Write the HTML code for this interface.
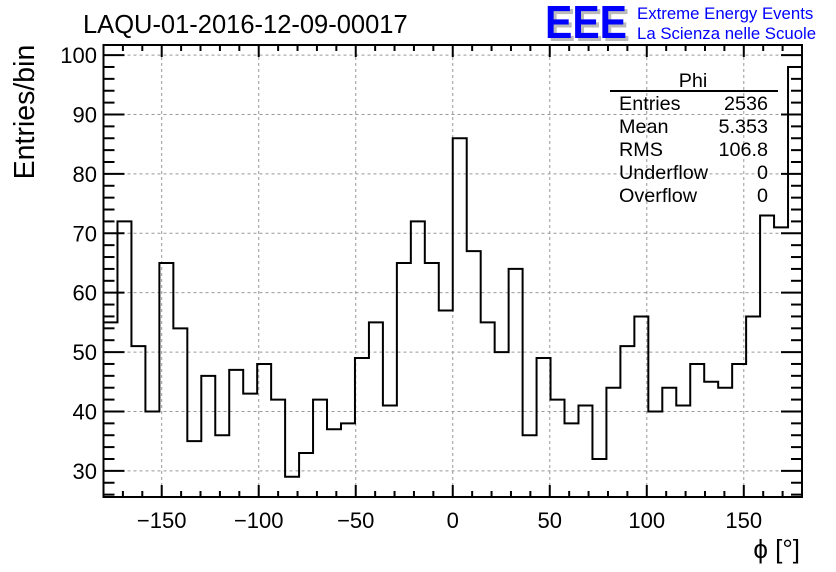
<!DOCTYPE html>
<html><head><meta charset="utf-8"><style>
body{margin:0;background:#fff;}
svg{display:block;font-family:"Liberation Sans",Arial,sans-serif;}
</style></head><body>
<svg id="chart" width="836" height="572" viewBox="0 0 836 572">
<rect width="836" height="572" fill="#fff"/>
<text x="83" y="33" font-size="25.5">LAQU-01-2016-12-09-00017</text>
<g>
<text x="548" y="41" font-size="46" font-weight="bold" fill="#bbb" textLength="82" lengthAdjust="spacingAndGlyphs">EEE</text>
<text x="545" y="38" font-size="46" font-weight="bold" fill="#0000ff" textLength="82" lengthAdjust="spacingAndGlyphs">EEE</text>
<text x="637" y="19" font-size="16.8" fill="#0000ff">Extreme Energy Events</text>
<text x="637" y="39" font-size="16.8" fill="#0000ff">La Scienza nelle Scuole</text>
</g>
<g id="grid"></g>
<g id="ticks"></g>
<path id="hist" fill="none" stroke="#000" stroke-width="2"/>
<rect x="103.5" y="45" width="698.5" height="452" fill="none" stroke="#000" stroke-width="2"/>
<g font-size="19.8">
<text x="693" y="87" text-anchor="middle">Phi</text>
<line x1="610" y1="91" x2="778" y2="91" stroke="#000" stroke-width="2"/>
<text x="619" y="110">Entries</text><text x="768" y="110" text-anchor="end">2536</text>
<text x="619" y="133">Mean</text><text x="768" y="133" text-anchor="end">5.353</text>
<text x="619" y="156">RMS</text><text x="768" y="156" text-anchor="end">106.8</text>
<text x="619" y="179">Underflow</text><text x="768" y="179" text-anchor="end">0</text>
<text x="619" y="202">Overflow</text><text x="768" y="202" text-anchor="end">0</text>
</g>
<text transform="translate(34,112) rotate(-90)" text-anchor="middle" font-size="28.5">Entries/bin</text>
<text x="800" y="558" text-anchor="end" font-size="26">ϕ [°]</text>
</svg>
<script>
const binEdgesRange = [-180, 180];
const counts = [55,72,51,40,65,54,35,46,36,47,43,48,42,29,33,42,37,38,49,55,41,65,72,65,57,
86,67,55,50,64,36,49,42,38,41,32,44,51,56,40,44,41,48,45,44,48,56,73,71,98];
const xTicks = [-150,-100,-50,0,50,100,150];
const yTicks = [30,40,50,60,70,80,90,100];
const X0=103.5,X1=802,Y0=497,Y1=45, xmin=-180,xmax=180,ymin=25.6,ymax=101.7;
const xs=v=>X0+(v-xmin)/(xmax-xmin)*(X1-X0);
const ys=v=>Y0-(v-ymin)/(ymax-ymin)*(Y0-Y1);
const NS='http://www.w3.org/2000/svg';
function mk(tag,attrs,parent){const e=document.createElementNS(NS,tag);for(const k in attrs)e.setAttribute(k,attrs[k]);parent.appendChild(e);return e;}
const grid=document.getElementById('grid'), ticks=document.getElementById('ticks');
xTicks.forEach(t=>{
  const l=mk('line',{x1:xs(t),x2:xs(t),y1:Y1,y2:Y0,stroke:'#999','stroke-dasharray':'3,3','stroke-width':1},grid);
  
  
  const tx=mk('text',{x:xs(t),y:528,'text-anchor':'middle','font-size':22},ticks);
  tx.textContent=(t<0?'\u2212'+(-t):t);
  
  
});
yTicks.forEach(t=>{
  const l=mk('line',{x1:X0,x2:X1,y1:ys(t),y2:ys(t),stroke:'#999','stroke-dasharray':'3,3','stroke-width':1},grid);
  
  
  const tx=mk('text',{x:97,y:ys(t)+8,'text-anchor':'end','font-size':22},ticks);
  tx.textContent=t;
  
  
});
for(let v=-180;v<=180;v+=10){
  const major=v%50===0, L=major?12:6;
  mk('line',{x1:xs(v),x2:xs(v),y1:Y0,y2:Y0-L,stroke:'#000','stroke-width':2},ticks);
  mk('line',{x1:xs(v),x2:xs(v),y1:Y1,y2:Y1+L,stroke:'#000','stroke-width':2},ticks);
}
for(let v=26;v<=100;v+=2){
  const major=v%10===0, L=major?21:11;
  mk('line',{x1:X0,x2:X0+L,y1:ys(v),y2:ys(v),stroke:'#000','stroke-width':2},ticks);
  mk('line',{x1:X1,x2:X1-L,y1:ys(v),y2:ys(v),stroke:'#000','stroke-width':2},ticks);
}
const bw=(binEdgesRange[1]-binEdgesRange[0])/counts.length;
let d='M'+xs(binEdgesRange[0])+','+Y0;
counts.forEach((c,i)=>{const a=binEdgesRange[0]+i*bw;d+=' L'+xs(a)+','+ys(c)+' L'+xs(a+bw)+','+ys(c);});
document.getElementById('hist').setAttribute('d',d);
</script>
</body></html>
